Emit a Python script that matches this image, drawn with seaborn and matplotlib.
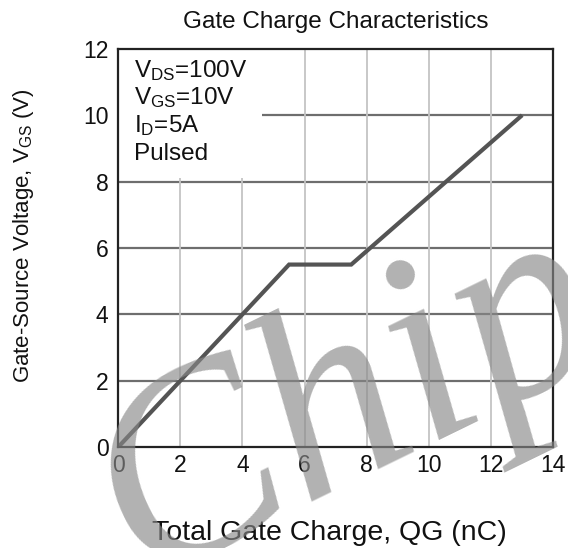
'''
Gate charge characteristics chart (VGS vs total gate charge).
'''
import matplotlib
matplotlib.use('Agg')
import matplotlib.pyplot as plt
import matplotlib.patches as mpatches
import pandas as pd
import seaborn as sns

qg_nc = [0, 5.5, 7.5, 13]
vgs_v = [0, 5.5, 5.5, 10]
x_ticks = [0, 2, 4, 6, 8, 10, 12, 14]
y_ticks = [0, 2, 4, 6, 8, 10, 12]
conditions = [r'V$_{\mathrm{DS}}$=100V', r'V$_{\mathrm{GS}}$=10V', r'I$_{\mathrm{D}}$=5A', 'Pulsed']

sns.set_style('white')
plt.rcParams['font.family'] = ['Liberation Sans', 'DejaVu Sans']
plt.rcParams['mathtext.fontset'] = 'custom'
plt.rcParams['mathtext.rm'] = 'Liberation Sans'
plt.rcParams['mathtext.it'] = 'Liberation Sans:italic'

df = pd.DataFrame({'qg': qg_nc, 'vgs': vgs_v})

fig = plt.figure(figsize=(5.68, 5.48), dpi=100)
ax = fig.add_axes([0.208, 0.184, 0.766, 0.727])

sns.lineplot(data=df, x='qg', y='vgs', ax=ax, color='#545454', linewidth=3.0,
             zorder=4, solid_capstyle='butt', solid_joinstyle='miter')

ax.set_xlim(0, 14)
ax.set_ylim(0, 12)
ax.set_xticks(x_ticks)
ax.set_yticks(y_ticks)
ax.tick_params(axis='both', labelsize=16.5, length=0, colors='#111111')
ax.tick_params(axis='y', pad=7)
ax.tick_params(axis='x', pad=5)

# grid: horizontal darker, vertical lighter
for y in y_ticks[1:-1]:
    ax.axhline(y, color='#6e6e6e', linewidth=1.6, zorder=1)
for x in x_ticks[1:-1]:
    ax.axvline(x, color='#c4c4c4', linewidth=1.3, zorder=1)

# white box behind the test conditions
ax.add_patch(mpatches.Rectangle((0, 8.12), 4.64, 3.88, facecolor='white',
                                edgecolor='none', zorder=2))
for i, line in enumerate(conditions):
    ax.text(0.5, 11.15 - i * 0.83, line, fontsize=17.5, ha='left', va='baseline',
            color='#111111', zorder=3)

for side in ax.spines.values():
    side.set_color('#222222')
    side.set_linewidth(1.6)
    side.set_zorder(5)

ax.set_title('Gate Charge Characteristics', fontsize=17.5, pad=15, color='#111111')
ax.set_xlabel('Total Gate Charge, QG (nC)', fontsize=20.5, color='#111111')
ax.xaxis.label.set_va('baseline')
ax.xaxis.set_label_coords(0.486, -0.234)
ax.set_ylabel(r'Gate-Source Voltage, V$_{\mathrm{GS}}$ (V)', fontsize=16, color='#111111')
ax.yaxis.set_label_coords(-0.188, 0.53)

# watermark
fig.text(0.2452, -0.0559, 'Chip', fontsize=196, family='Liberation Serif', style='italic',
         color='#888888', alpha=0.65, rotation=26, rotation_mode='anchor',
         ha='left', va='baseline', zorder=10)

fig.savefig('out.png', dpi=100)
